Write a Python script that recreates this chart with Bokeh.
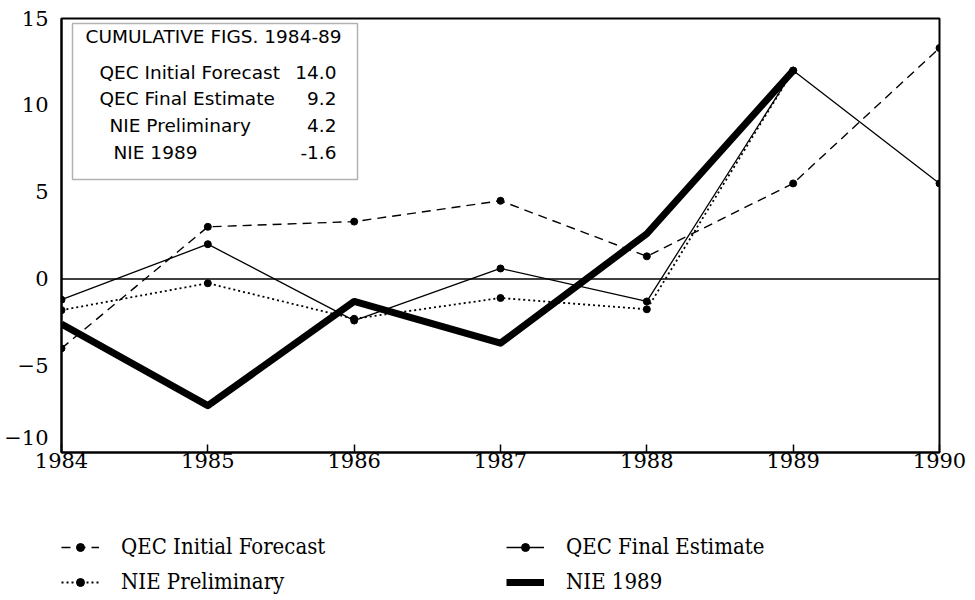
from bokeh.plotting import figure
from bokeh.layouts import column
from bokeh.models import Legend, LegendItem, Span, BoxAnnotation, Label, FixedTicker, Range1d
from bokeh.embed import file_html
from bokeh.resources import INLINE

# ---------------- data ----------------
years = [1984, 1985, 1986, 1987, 1988, 1989, 1990]
qec_initial = [-4.0, 3.0, 3.3, 4.5, 1.3, 5.5, 13.3]
qec_final = [-1.2, 2.0, -2.4, 0.6, -1.3, 12.0, 5.5]
nie_years = [1984, 1985, 1986, 1987, 1988, 1989]
nie_prelim = [-1.8, -0.25, -2.3, -1.1, -1.75, 12.0]
nie_1989 = [-2.6, -7.3, -1.3, -3.7, 2.6, 12.0]

x_ticks = [1984, 1985, 1986, 1987, 1988, 1989, 1990]
y_ticks = [-10, -5, 0, 5, 10, 15]
y_tick_labels = ["\u221210\n", "\u22125", "0", "5", "10", "15"]

series_names = ["QEC Initial Forecast", "QEC Final Estimate", "NIE Preliminary", "NIE 1989"]
cum_title = "CUMULATIVE FIGS. 1984-89"
cum_values = ["14.0", "9.2", "4.2", "-1.6"]

# ---------------- styles ----------------
STY = {
    "QEC Initial Forecast": dict(line_width=1.4, line_dash="9 6", marker=True),
    "QEC Final Estimate": dict(line_width=1.3, line_dash="solid", marker=True),
    "NIE Preliminary": dict(line_width=1.8, line_dash="2 3", marker=True),
    "NIE 1989": dict(line_width=7, line_dash="solid", marker=False),
}

# ---------------- main figure ----------------
W = 967
ML, MR, MT, MB = 61, 28, 18, 32
FRAME_W = W - ML - MR
FRAME_H = 434
p = figure(width=W, height=MT + FRAME_H + MB, x_range=Range1d(1984, 1990), y_range=Range1d(-10, 15),
           output_backend="svg", toolbar_location=None,
           min_border_left=ML, min_border_right=MR, min_border_top=MT, min_border_bottom=MB)
p.background_fill_color = "white"
p.border_fill_color = "white"
p.outline_line_color = "black"
p.outline_line_width = 2
p.xgrid.visible = False
p.ygrid.visible = False

tick_font = "DejaVu Serif"
p.xaxis.ticker = FixedTicker(ticks=x_ticks)
p.yaxis.ticker = FixedTicker(ticks=y_ticks)
p.yaxis.major_label_overrides = {t: s for t, s in zip(y_ticks, y_tick_labels)}
for ax in (p.xaxis[0], p.yaxis[0]):
    ax.axis_line_color = "black"
    ax.axis_line_width = 2
    ax.major_label_text_font = tick_font
    ax.major_label_text_font_size = "21px"
    ax.major_label_text_color = "black"
    ax.minor_tick_line_color = None
    ax.major_tick_line_color = "black"
    ax.major_tick_line_width = 1.5
p.xaxis.major_tick_in = 8
p.xaxis.major_tick_out = 0
p.xaxis.major_label_standoff = 0
p.yaxis.major_tick_in = 0
p.yaxis.major_tick_out = 0
p.yaxis.major_label_standoff = 13

# zero line
p.add_layout(Span(location=0, dimension="width", line_color="black", line_width=1.5))

# ---------------- series ----------------
series = [
    ("QEC Initial Forecast", years, qec_initial),
    ("QEC Final Estimate", years, qec_final),
    ("NIE Preliminary", nie_years, nie_prelim),
    ("NIE 1989", nie_years, nie_1989),
]
for name, xs, ys in series:
    st = STY[name]
    p.line(xs, ys, line_color="black", line_width=st["line_width"], line_dash=st["line_dash"],
           line_join="round")
    if st["marker"]:
        p.scatter(xs, ys, size=7, color="black")

# ---------------- inset box (positions in canvas px -> data) ----------------


def xd(px):
    return 1984 + (px - ML) * 6 / FRAME_W


def yd(py):
    return 15 - (py - MT) * 25 / FRAME_H


p.add_layout(BoxAnnotation(left=xd(72), right=xd(357), top=yd(23), bottom=yd(179),
                           fill_color="white", fill_alpha=1, line_color="black", line_width=1.5))
box_font = "DejaVu Sans"
box_size = "18.5px"
p.add_layout(Label(x=xd(85), y=yd(36), text=cum_title, text_font=box_font, text_color="black",
                   text_font_size=box_size, text_baseline="middle", text_align="left"))
row_y = [72, 98, 125, 152]
row_x = [99, 99, 109, 113]
for name, val, ry, rx in zip(series_names, cum_values, row_y, row_x):
    p.add_layout(Label(x=xd(rx), y=yd(ry), text=name, text_font=box_font, text_color="black",
                       text_font_size=box_size, text_baseline="middle", text_align="left"))
    p.add_layout(Label(x=xd(336), y=yd(ry), text=val, text_font=box_font, text_color="black",
                       text_font_size=box_size, text_baseline="middle", text_align="right"))

# ---------------- legend figure (below the chart) ----------------
LEG_H = 112
pl = figure(width=W, height=LEG_H, x_range=Range1d(0, 1), y_range=Range1d(0, 1),
            output_backend="svg", toolbar_location=None, min_border=0,
            x_axis_location=None, y_axis_location=None)
pl.xgrid.visible = False
pl.ygrid.visible = False
pl.outline_line_color = None
pl.background_fill_color = "white"
pl.border_fill_color = "white"

nan = float("nan")
leg_items = {}
for name, _, _ in series:
    st = STY[name]
    rs = [pl.line(x=[nan, nan], y=[nan, nan], line_color="black", line_width=st["line_width"],
                  line_dash=st["line_dash"])]
    if st["marker"]:
        rs.append(pl.scatter(x=[nan], y=[nan], size=7, color="black"))
    leg_items[name] = rs

order = ["QEC Initial Forecast", "NIE Preliminary", "QEC Final Estimate", "NIE 1989"]
legend = Legend(items=[LegendItem(label=n, renderers=leg_items[n]) for n in order],
                ncols=2, location=(0, 2))
legend.margin = 0
legend.padding = 0
legend.border_line_color = None
legend.background_fill_alpha = 0
legend.glyph_width = 38
legend.glyph_height = 20
legend.label_height = 20
legend.label_standoff = 22
legend.spacing = 10
legend.label_width = 375
legend.label_text_font = "DejaVu Serif Condensed"
legend.label_text_font_size = "22px"
legend.label_text_color = "black"
pl.add_layout(legend)

layout = column(p, pl, spacing=0)
open("out.html", "w").write(file_html(layout, INLINE))
